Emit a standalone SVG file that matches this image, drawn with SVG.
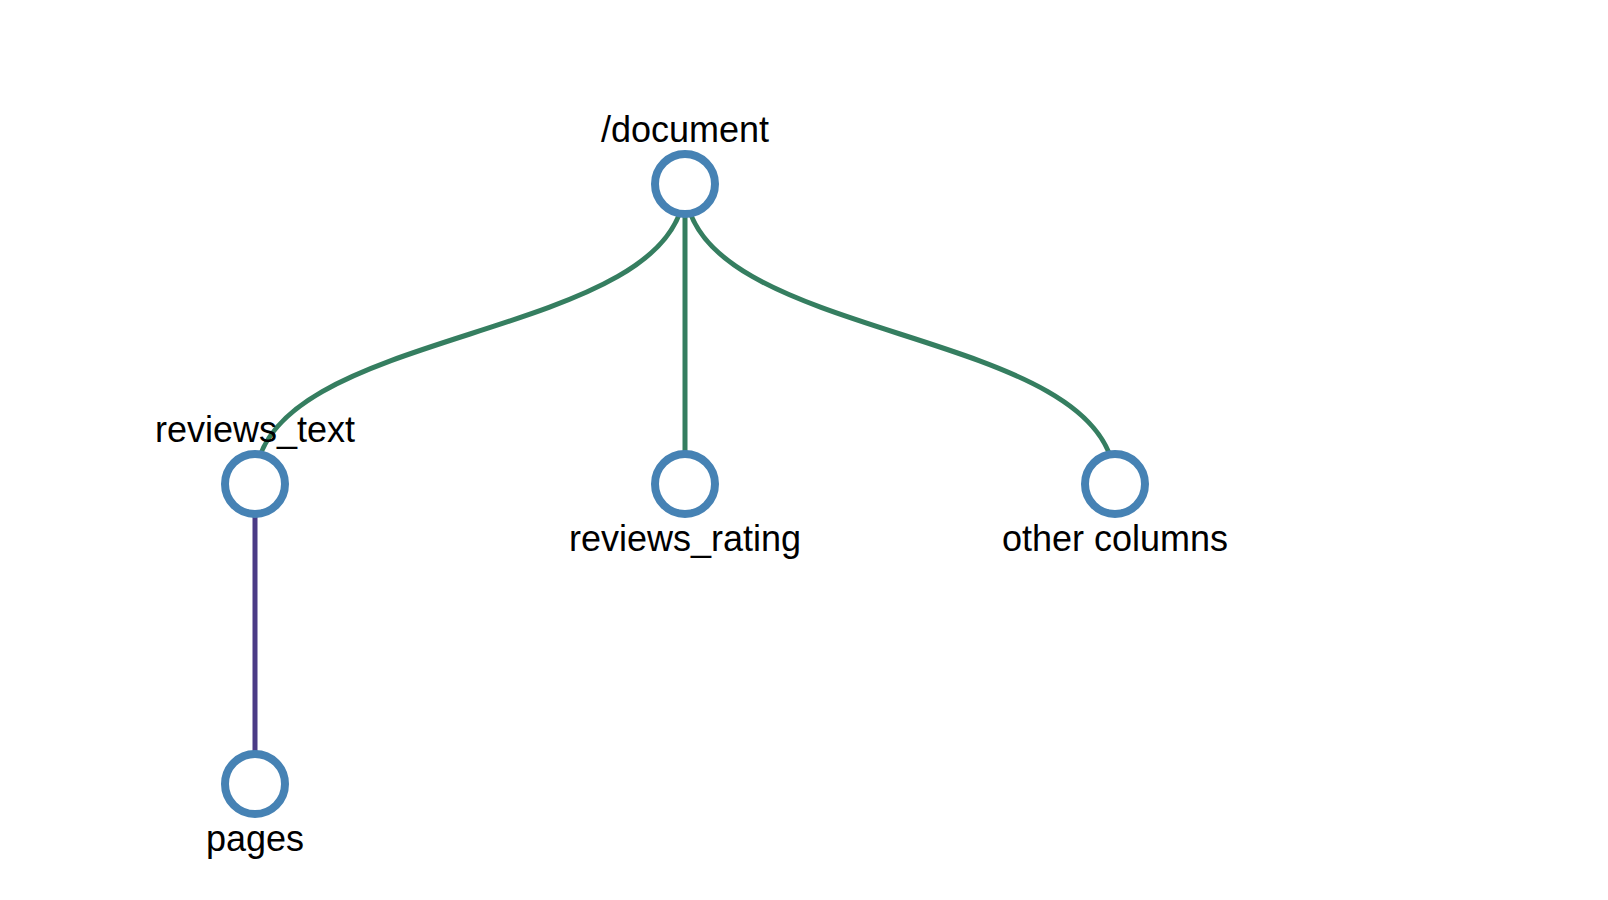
<svg xmlns="http://www.w3.org/2000/svg" width="1608" height="900" viewBox="0 0 1608 900">
<style>
.link{fill:none;stroke-width:5}
.g{stroke:#357e60}
.p{stroke:#4b3b86}
.node circle{fill:#fff;stroke:#4682b4;stroke-width:8}
.node text{font-family:"Liberation Sans",Arial,sans-serif;font-size:36px;fill:#000;text-anchor:middle}
</style>
<rect width="1608" height="900" fill="#fff"/>
<g id="connectors">
<path class="link g" d="M685,184 C685,346 255,322 255,484"/>
<path class="link g" d="M685,184 L685,484"/>
<path class="link g" d="M685,184 C685,346 1115,322 1115,484"/>
<path class="link p" d="M255,484 L255,784"/>
</g>
<g id="node-document" class="node"><circle cx="685" cy="184" r="30"/><text x="685" y="142">/document</text></g>
<g id="node-reviews_text" class="node"><circle cx="255" cy="484" r="30"/><text x="255" y="442">reviews_text</text></g>
<g id="node-reviews_rating" class="node"><circle cx="685" cy="484" r="30"/><text x="685" y="551">reviews_rating</text></g>
<g id="node-other" class="node"><circle cx="1115" cy="484" r="30"/><text x="1115" y="551">other columns</text></g>
<g id="node-pages" class="node"><circle cx="255" cy="784" r="30"/><text x="255" y="851">pages</text></g>
</svg>
